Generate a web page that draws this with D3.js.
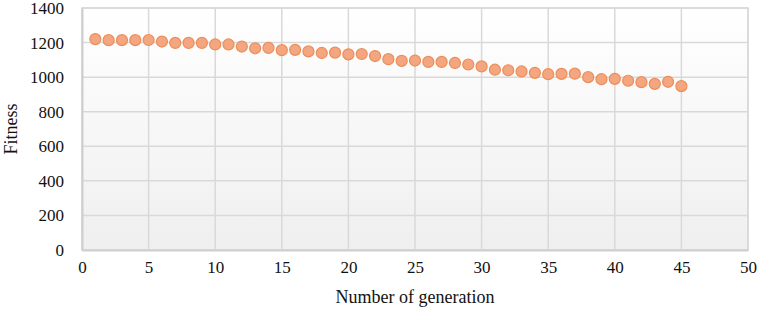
<!DOCTYPE html>
<html>
<head>
<meta charset="utf-8">
<script src="https://cdn.jsdelivr.net/npm/d3@7"></script>
<style>
  body { margin: 0; background: #fff; }
  svg text { font-family: "Liberation Serif", "Times New Roman", serif; fill: #111; }
</style>
</head>
<body>
<div id="chart"></div>
<script>
// Data
const generations = d3.range(1, 46);
const fitness = [1220, 1214, 1214, 1214, 1215, 1206, 1198, 1198, 1198, 1189,
  1189, 1177, 1167, 1169, 1156, 1158, 1149, 1140, 1142, 1132,
  1134, 1122, 1104, 1094, 1096, 1088, 1088, 1082, 1073, 1062,
  1043, 1040, 1033, 1025, 1017, 1019, 1020, 1000, 988, 990,
  979, 971, 961, 973, 948];
const xTicks = [0, 5, 10, 15, 20, 25, 30, 35, 40, 45, 50];
const yTicks = [0, 200, 400, 600, 800, 1000, 1200, 1400];

const W = 763, H = 314;
const margin = { top: 8, right: 15, bottom: 64, left: 82 };
const width = W - margin.left - margin.right;
const height = H - margin.top - margin.bottom;

const svg = d3.select('#chart').append('svg')
  .attr('width', W)
  .attr('height', H);

const defs = svg.append('defs');
const grad = defs.append('linearGradient')
  .attr('id', 'bg').attr('x1', 0).attr('y1', 0).attr('x2', 0).attr('y2', 1);
grad.append('stop').attr('offset', '0%').attr('stop-color', '#ffffff');
grad.append('stop').attr('offset', '100%').attr('stop-color', '#efefef');

const g = svg.append('g')
  .attr('transform', 'translate(' + margin.left + ',' + margin.top + ')');

const x = d3.scaleLinear().domain([0, 50]).range([0, width]);
const y = d3.scaleLinear().domain([0, 1400]).range([height, 0]);

// plot background
g.append('rect')
  .attr('width', width).attr('height', height)
  .attr('fill', 'url(#bg)')
  .attr('stroke', '#d9d9d9').attr('stroke-width', 1.5);

// gridlines
g.append('g')
  .selectAll('line')
  .data(xTicks)
  .join('line')
  .attr('x1', d => x(d)).attr('x2', d => x(d))
  .attr('y1', 0).attr('y2', height)
  .attr('stroke', '#d9d9d9').attr('stroke-width', 1.5);

g.append('g')
  .selectAll('line')
  .data(yTicks)
  .join('line')
  .attr('x1', 0).attr('x2', width)
  .attr('y1', d => y(d)).attr('y2', d => y(d))
  .attr('stroke', '#d9d9d9').attr('stroke-width', 1.5);

// axes
const xAxis = d3.axisBottom(x).tickValues(xTicks).tickSize(0).tickPadding(11);
const yAxis = d3.axisLeft(y).tickValues(yTicks).tickFormat(d3.format('d')).tickSize(0).tickPadding(18);

g.append('g')
  .attr('transform', 'translate(0,' + height + ')')
  .call(xAxis)
  .attr('font-family', '"Liberation Serif", serif')
  .attr('font-size', 17)
  .call(s => s.select('.domain').attr('stroke', '#cfcfcf').attr('stroke-width', 2))
  .selectAll('text')
  .attr('fill', '#111');

g.append('g')
  .call(yAxis)
  .attr('font-family', '"Liberation Serif", serif')
  .attr('font-size', 17)
  .call(s => s.select('.domain').attr('stroke', '#cfcfcf').attr('stroke-width', 2))
  .selectAll('text')
  .attr('fill', '#111');

// points
g.append('g')
  .selectAll('circle')
  .data(generations)
  .join('circle')
  .attr('cx', (d, i) => x(generations[i]))
  .attr('cy', (d, i) => y(fitness[i]))
  .attr('r', 5.5)
  .attr('fill', '#f3a67f')
  .attr('stroke', '#ec8d58')
  .attr('stroke-width', 1.2);

// axis titles
svg.append('text')
  .attr('x', margin.left + width / 2)
  .attr('y', 303)
  .attr('text-anchor', 'middle')
  .attr('font-size', 18)
  .text('Number of generation');

svg.append('text')
  .attr('transform', 'translate(17,' + (margin.top + height / 2) + ') rotate(-90)')
  .attr('text-anchor', 'middle')
  .attr('font-size', 18)
  .text('Fitness');
</script>
</body>
</html>
